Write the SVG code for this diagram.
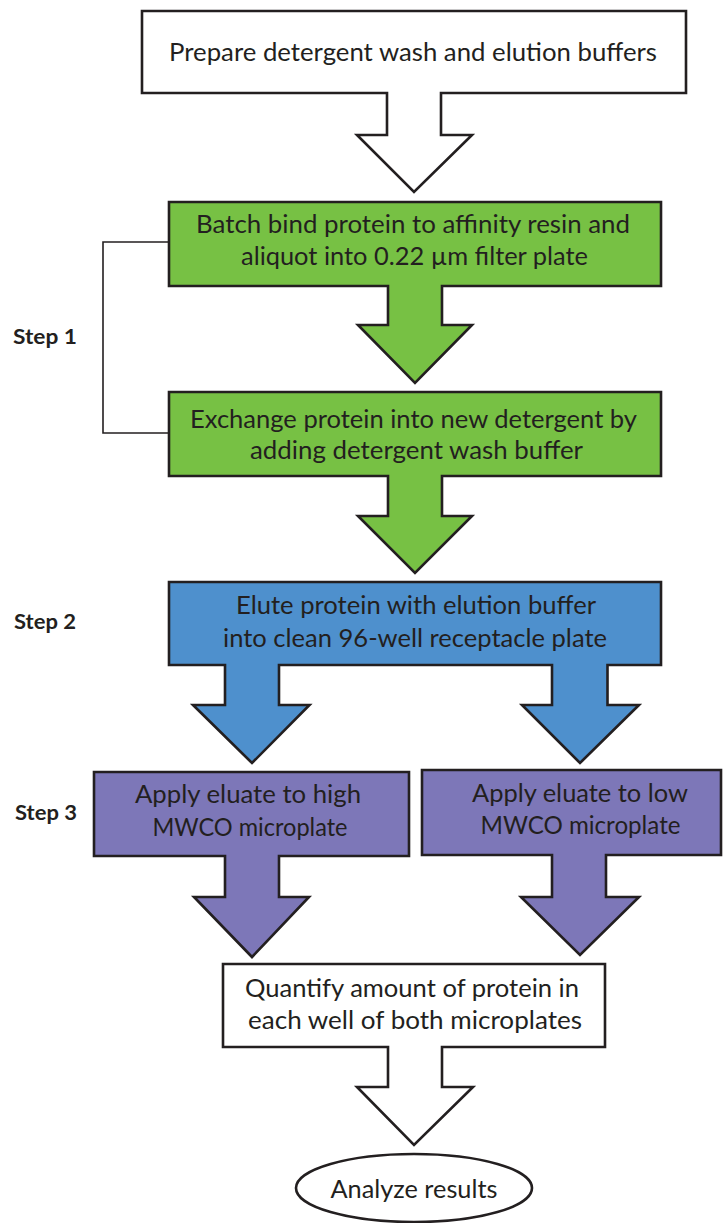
<svg xmlns="http://www.w3.org/2000/svg" width="723" height="1223" viewBox="0 0 723 1223">
<style>
.shape{stroke:#231f20;stroke-width:2.6;stroke-linejoin:miter}
.white{fill:#ffffff}
.green{fill:#77c144}
.blue{fill:#4e90cd}
.purple{fill:#7d77b8}
.t{font-family:Lato,"Liberation Sans",sans-serif;font-size:25px;fill:#231f20;text-anchor:middle}
.step{font-family:Lato,"Liberation Sans",sans-serif;font-size:21px;font-weight:bold;fill:#231f20}
.bracket{fill:none;stroke:#231f20;stroke-width:1.6}
</style>
<rect width="723" height="1223" fill="#ffffff"/>
<g id="connectors">
<path class="bracket" d="M169,242 H103 V433 H169"/>
</g>
<g id="prepare">
<path class="shape white" d="M142,11 H686 V93 H441 V135 H472 L414,192 L357,135 H387 V93 H142 Z"/>
<text class="t" x="413" y="61" textLength="488" lengthAdjust="spacingAndGlyphs">Prepare detergent wash and elution buffers</text>
</g>
<g id="batch-bind">
<path class="shape green" d="M169,202 H661 V286 H442 V325 H472 L415,383 L358,325 H388 V286 H169 Z"/>
<text class="t" x="413" y="233" textLength="434" lengthAdjust="spacingAndGlyphs">Batch bind protein to affinity resin and</text>
<text class="t" x="414.5" y="265" textLength="347" lengthAdjust="spacingAndGlyphs">aliquot into 0.22 µm filter plate</text>
</g>
<g id="exchange">
<path class="shape green" d="M169,392 H661 V476 H442 V516 H472 L415,573 L358,516 H388 V476 H169 Z"/>
<text class="t" x="413.5" y="428" textLength="447" lengthAdjust="spacingAndGlyphs">Exchange protein into new detergent by</text>
<text class="t" x="416.5" y="459" textLength="333" lengthAdjust="spacingAndGlyphs">adding detergent wash buffer</text>
</g>
<g id="step-labels">
<text class="step" x="13" y="344" textLength="64" lengthAdjust="spacingAndGlyphs">Step 1</text>
<text class="step" x="14" y="629" textLength="62" lengthAdjust="spacingAndGlyphs">Step 2</text>
<text class="step" x="15" y="820" textLength="62" lengthAdjust="spacingAndGlyphs">Step 3</text>
</g>
<g id="elute">
<path class="shape blue" d="M169,582 H661 V665 H607.5 V705 H639 L580,763 L522,705 H552 V665 H279 V705 H309.5 L252,763 L193,705 H225 V665 H169 Z"/>
<text class="t" x="416" y="614" textLength="360" lengthAdjust="spacingAndGlyphs">Elute protein with elution buffer</text>
<text class="t" x="415" y="647" textLength="384" lengthAdjust="spacingAndGlyphs">into clean 96-well receptacle plate</text>
</g>
<g id="high-mwco">
<path class="shape purple" d="M94,772 H409 V856 H279 V897 H309 L252,957 L194,897 H225 V856 H94 Z"/>
<text class="t" x="248" y="803" textLength="226" lengthAdjust="spacingAndGlyphs">Apply eluate to high</text>
<text class="t" x="250" y="836" textLength="195" lengthAdjust="spacingAndGlyphs">MWCO microplate</text>
</g>
<g id="low-mwco">
<path class="shape purple" d="M422,770 H721 V855 H606 V897 H639 L580,955 L521,897 H552 V855 H422 Z"/>
<text class="t" x="580" y="802" textLength="216" lengthAdjust="spacingAndGlyphs">Apply eluate to low</text>
<text class="t" x="580.5" y="834" textLength="200" lengthAdjust="spacingAndGlyphs">MWCO microplate</text>
</g>
<g id="quantify">
<path class="shape white" d="M223,964 H605 V1047 H442 V1087 H473 L414,1145 L357,1087 H388 V1047 H223 Z"/>
<text class="t" x="412" y="997" textLength="334" lengthAdjust="spacingAndGlyphs">Quantify amount of protein in</text>
<text class="t" x="415" y="1029" textLength="334" lengthAdjust="spacingAndGlyphs">each well of both microplates</text>
</g>
<g id="analyze">
<ellipse class="shape white" cx="414" cy="1188" rx="118" ry="34"/>
<text class="t" x="414" y="1198" textLength="167" lengthAdjust="spacingAndGlyphs">Analyze results</text>
</g>
</svg>
